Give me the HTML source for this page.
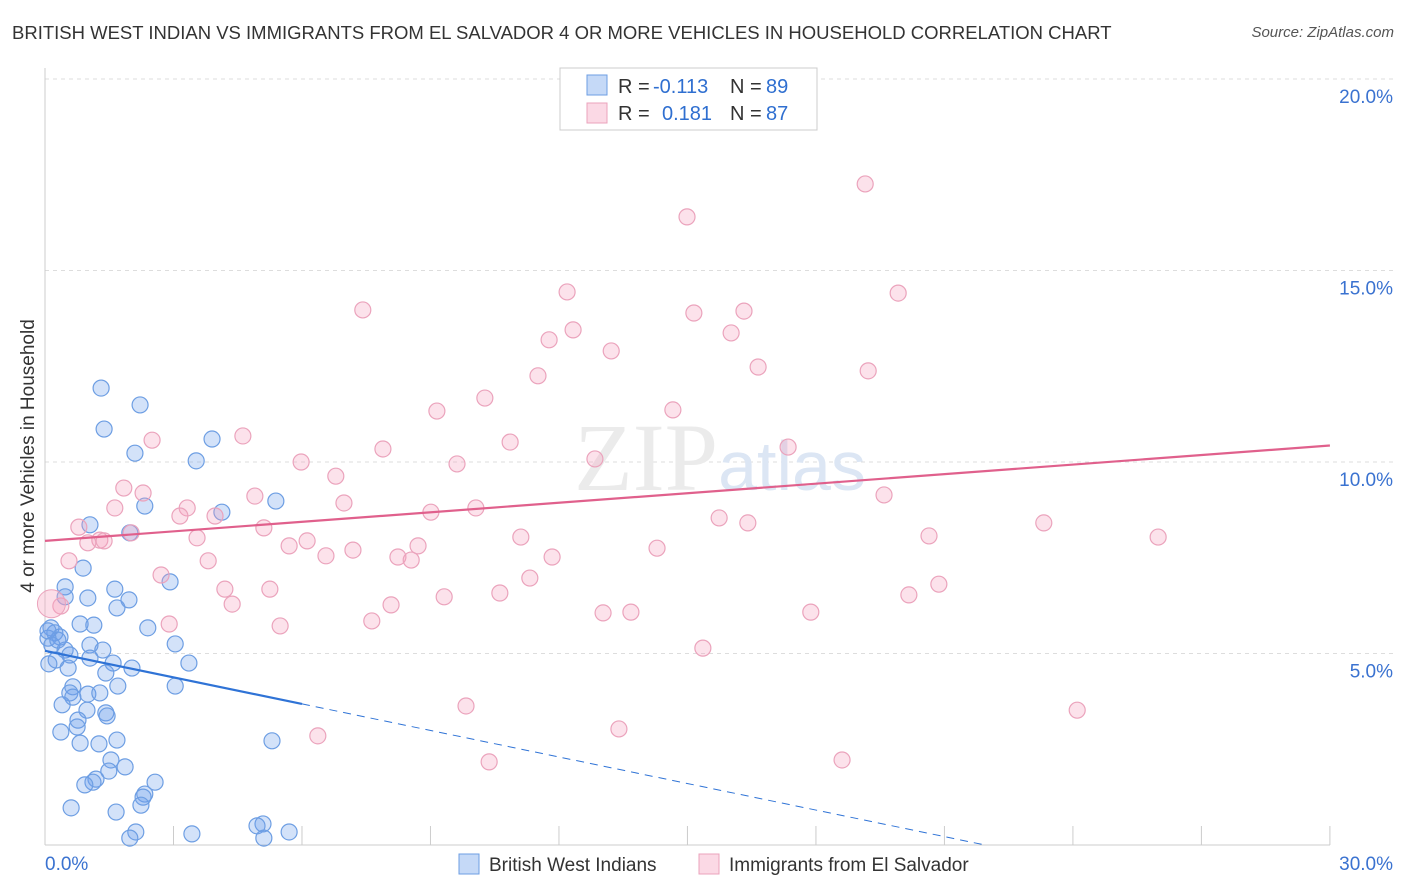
<!DOCTYPE html>
<html><head><meta charset="utf-8">
<style>
body{margin:0;background:#fff;font-family:"Liberation Sans",sans-serif;}
#wrap{position:relative;width:1406px;height:892px;overflow:hidden;}
.title{position:absolute;left:12px;top:22px;font-size:18.5px;color:#333;white-space:nowrap;}
.source{position:absolute;right:12px;top:24px;font-size:15px;color:#555;font-style:italic;}
</style></head>
<body>
<div id="wrap">
<div class="title">BRITISH WEST INDIAN VS IMMIGRANTS FROM EL SALVADOR 4 OR MORE VEHICLES IN HOUSEHOLD CORRELATION CHART</div>
<div class="source">Source: ZipAtlas.com</div>
<svg id="svg" width="1406" height="892" style="position:absolute;left:0;top:0"></svg>
</div>
<script>
const xTicks=[0,3,6,9,12,15,18,21,24,27,30];
const yTicks=[5,10,15,20];
const yTickLabels=["5.0%","10.0%","15.0%","20.0%"];
const xEndLabels=["0.0%","30.0%"];
const bluePx=[[101,388],[140,405],[104,429],[212,439],[135,453],[196,461],[276,501],[222,512],[145,506],[130,533],[90,525],[83,568],[65,587],[115,589],[65,597],[88,598],[129,600],[117,608],[170,582],[148,628],[80,624],[94,625],[51,628],[55,633],[60,637],[48,638],[52,645],[65,650],[70,655],[90,645],[103,650],[175,644],[113,663],[132,668],[189,663],[56,660],[49,664],[68,668],[106,673],[175,686],[73,687],[70,693],[88,694],[100,693],[118,686],[73,697],[62,705],[87,710],[106,713],[107,716],[78,720],[77,727],[61,732],[117,740],[80,743],[99,744],[272,741],[111,760],[109,771],[125,767],[96,779],[93,782],[85,785],[155,782],[145,794],[143,797],[141,805],[116,812],[71,808],[263,824],[257,826],[289,832],[192,834],[136,832],[130,838],[264,838],[90,658],[58,640],[48,631]];
const pinkPx=[[865,184],[687,217],[898,293],[567,292],[363,310],[694,313],[744,311],[573,330],[731,333],[549,340],[611,351],[758,367],[868,371],[538,376],[485,398],[673,410],[437,411],[243,436],[152,440],[510,442],[383,449],[788,447],[595,459],[301,462],[457,464],[336,476],[124,488],[143,493],[255,496],[884,495],[187,508],[344,503],[115,508],[215,516],[180,516],[431,512],[476,508],[719,518],[748,523],[1044,523],[79,527],[264,528],[131,533],[929,536],[1158,537],[197,538],[100,540],[104,541],[88,543],[521,537],[307,541],[289,546],[418,546],[353,550],[657,548],[326,556],[398,557],[411,560],[552,557],[69,561],[208,561],[161,575],[530,578],[225,589],[270,589],[939,584],[500,593],[444,597],[909,595],[391,605],[232,604],[61,606],[603,613],[631,612],[811,612],[372,621],[169,624],[280,626],[703,648],[466,706],[1077,710],[619,729],[318,736],[489,762],[842,760]];
const blueX=bluePx.map(p=>+((p[0]-45)/42.83).toFixed(2));
const blueY=bluePx.map(p=>+((845-p[1])/38.3).toFixed(2));
const pinkX=pinkPx.map(p=>+((p[0]-45)/42.83).toFixed(2));
const pinkY=pinkPx.map(p=>+((845-p[1])/38.3).toFixed(2));
const blueTrend=[5.07,-0.231];
const pinkTrend=[7.94,0.083];

const X=v=>45+v*42.83, Y=v=>845-v*38.3;
const svg=document.getElementById('svg');
const NS='http://www.w3.org/2000/svg';
function mk(t,a,p){const e=document.createElementNS(NS,t);for(const k in a)e.setAttribute(k,a[k]);(p||svg).appendChild(e);return e;}
yTicks.forEach((t,i)=>{
 const g=mk('line',{x1:45,x2:1394,y1:Y(t),y2:Y(t),stroke:'#ddd','stroke-dasharray':'4,4'});
 
 const l=mk('text',{x:1393,y:Y(t)+24,'text-anchor':'end','font-size':19,fill:'#3a72d0'});
 l.textContent=yTickLabels[i];
 
});
const ax=mk('line',{x1:45,x2:45,y1:68,y2:845,stroke:'#ccc'});
const bx=mk('line',{x1:45,x2:1330,y1:845,y2:845,stroke:'#ccc'});
xTicks.forEach(t=>{const e=mk('line',{x1:X(t),x2:X(t),y1:826,y2:845,stroke:'#ccc'});});
[[45,'start',xEndLabels[0]],[1393,'end',xEndLabels[1]]].forEach(([x,a,s])=>{const e=mk('text',{x:x,y:870,'text-anchor':a,'font-size':19,fill:'#3a72d0'});e.textContent=s;});
const w=mk('text',{x:720,y:490,'text-anchor':'middle','font-size':96,fill:'#ebebeb','font-family':'Liberation Serif'});
w.innerHTML='ZIP<tspan fill="#dce6f4" font-family="Liberation Sans" font-size="70">atlas</tspan>';

const yt=mk('text',{x:34,y:456,'text-anchor':'middle','font-size':19,fill:'#333',transform:'rotate(-90 34 456)'});
yt.textContent='4 or more Vehicles in Household';
blueX.forEach((x,i)=>{const c=mk('circle',{cx:X(x),cy:Y(blueY[i]),r:8,fill:'rgba(110,160,235,0.3)',stroke:'#6d9ee3','stroke-width':1.2});
});
pinkX.forEach((x,i)=>{const c=mk('circle',{cx:X(x),cy:Y(pinkY[i]),r:8,fill:'rgba(245,160,190,0.3)',stroke:'#eba3bc','stroke-width':1.2});
});
const big=mk('circle',{cx:X(0.15),cy:Y(6.3),r:14,fill:'rgba(245,160,190,0.35)',stroke:'#eba3bc'});

const f=(t,x)=>t[0]+t[1]*x;
const bl=mk('line',{x1:X(0),y1:Y(f(blueTrend,0)),x2:X(6),y2:Y(f(blueTrend,6)),stroke:'#2f73d6','stroke-width':2.2});

const xEnd=-blueTrend[0]/blueTrend[1];
const bd=mk('line',{x1:X(6),y1:Y(f(blueTrend,6)),x2:X(xEnd),y2:Y(f(blueTrend,xEnd)),stroke:'#2f73d6','stroke-width':1,'stroke-dasharray':'8,6'});

const pl=mk('line',{x1:X(0),y1:Y(f(pinkTrend,0)),x2:X(30),y2:Y(f(pinkTrend,30)),stroke:'#e0608c','stroke-width':2.2});

const lg=mk('g',{});
mk('rect',{x:560,y:68,width:257,height:62,fill:'#fff',stroke:'#ccc'},lg);
mk('rect',{x:587,y:75,width:20,height:20,fill:'rgba(110,160,235,0.4)',stroke:'#6d9ee3'},lg);
mk('rect',{x:587,y:103,width:20,height:20,fill:'rgba(245,160,190,0.4)',stroke:'#eba3bc'},lg);
function txt(x,y,s,c){const e=mk('text',{x:x,y:y,'font-size':20,fill:c},lg);e.textContent=s;return e;}
txt(618,93,'R =','#333');txt(653,93,'-0.113','#2f6fd0');txt(730,93,'N =','#333');txt(766,93,'89','#2f6fd0');
txt(618,120,'R =','#333');txt(662,120,'0.181','#2f6fd0');txt(730,120,'N =','#333');txt(766,120,'87','#2f6fd0');
const bl2=mk('g',{});
mk('rect',{x:459,y:854,width:20,height:20,fill:'rgba(110,160,235,0.4)',stroke:'#6d9ee3'},bl2);
const a=mk('text',{x:489,y:871,'font-size':19,fill:'#333'},bl2);a.textContent='British West Indians';
mk('rect',{x:699,y:854,width:20,height:20,fill:'rgba(245,160,190,0.4)',stroke:'#eba3bc'},bl2);
const b=mk('text',{x:729,y:871,'font-size':19,fill:'#333'},bl2);b.textContent='Immigrants from El Salvador';
</script>
</body></html>
